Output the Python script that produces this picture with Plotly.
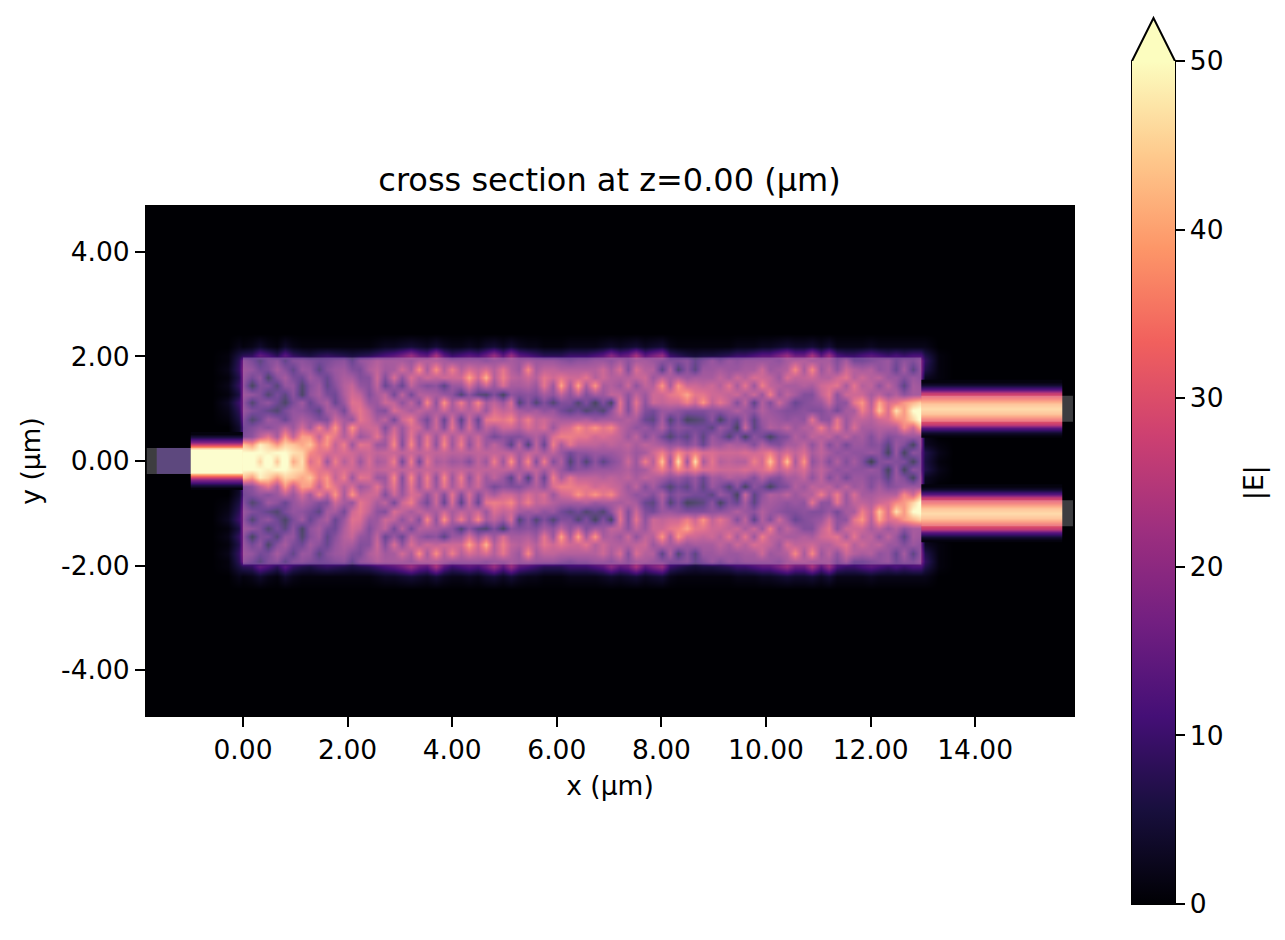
import numpy as np
import plotly.graph_objects as go

# |E| on a 0.16 um grid, upper half of the MMI (y = 0 .. 1.92)
row_00 = [52,52,44,55,42,55,38,46,28,34,18,32,22,28,18,28,20, 22,32,12,32,12,30,20,22,18,20,14,24,18,32,18,36, 18,34,14,32,14,22,6,16,6,16,8,14,18,26,18,32, 22,42,18,46,18,46,20,30,22,24,22,22,32,26,42,24, 42,20,36,16,22,14,22,14,20,14,2,14,16,14,14,4,14]
row_01 = [50,50,50,48,50,50,46,44,34,30,28,26,28,26,24,26,24, 25,25,24,25,24,25,24,25,23,24,23,24,24,24,24,24, 20,24,24,20,24,18,12,16,16,18,18,18,20,22,18,20, 26,32,24,34,28,32,28,28,26,26,26,28,26,28,32,24, 28,24,28,20,24,20,16,18,16,16,18,16,4,18,4,16,14]
row_02 = [42,36,48,44,36,44,42,38,42,30,36,24,32,18,30,28,18, 18,34,14,34,18,32,16,34,18,32,16,28,18,24,18,8, 24,6,24,10,32,20,30,24,24,24,22,24,22,24,20,24, 22,20,16,18,14,18,10,20,18,22,20,20,14,22,16,14, 20,20,24,16,24,14,20,12,18,18,14,16,8,18,14,4,18]
row_03 = [14,16,24,30,20,36,24,37,36,24,36,30,22,28,18,22,30, 20,30,16,30,18,30,18,30,20,28,20,26,18,12,16,14, 14,18,22,16,28,32,32,30,30,26,28,26,24,18,24,14, 20,12,6,12,8,16,8,18,14,6,16,4,16,12,4,12, 14,22,18,24,22,24,18,24,18,20,14,20,14,16,18,18,18]
row_04 = [12,14,17,15,18,24,18,27,19,33,22,36,20,36,24,26,26, 14,26,18,28,26,16,26,14,30,14,28,14,24,20,26,26, 22,28,24,28,18,26,28,36,30,36,30,34,24,20,16,18, 14,22,12,16,14,12,12,8,18,14,4,26,8,16,22,20, 24,18,22,22,32,22,32,18,28,20,20,22,22,22,34,26,40]
row_05 = [15,6,11,19,16,10,17,21,18,14,14,26,20,17,30,26,20, 24,12,26,32,20,12,26,10,28,8,26,10,30,32,30,34, 24,32,24,26,22,20,20,20,22,18,20,20,20,22,20,10, 8,20,6,14,4,6,8,16,4,14,10,20,8,18,20,18, 16,18,16,30,16,16,30,18,24,24,22,26,28,34,36,44,52]
row_06 = [18,14,12,9,6,13,17,16,13,8,20,20,12,26,30,24,16, 14,28,24,20,24,22,20,26,20,24,22,26,18,28,24,26, 20,18,20,16,18,12,8,12,6,10,6,16,28,14,26,14, 12,18,18,16,14,14,14,16,16,18,22,18,16,22,18,16, 14,14,16,14,14,18,12,20,20,32,24,42,28,46,36,50,52]
row_07 = [17,6,14,17,11,5,13,19,10,17,21,10,18,29,28,18,18, 26,24,16,24,14,34,16,36,20,32,20,34,20,24,18,28, 6,16,6,14,6,14,14,6,14,4,14,4,30,14,30,16, 26,24,26,26,32,26,36,24,30,24,14,24,8,22,14,26, 18,10,14,16,18,26,16,16,30,36,22,38,28,30,36,40,44]
row_08 = [19,17,14,6,13,8,16,5,16,20,13,11,21,27,24,14,20, 24,12,24,12,22,22,20,18,16,6,16,8,6,14,4,16, 14,16,14,20,16,24,16,24,14,20,18,24,24,16,24,18, 26,26,30,32,38,30,30,26,26,24,26,20,26,18,32,18, 24,20,14,14,24,30,16,26,26,26,20,24,18,22,16,20,20]
row_09 = [17,4,14,14,7,17,17,6,15,19,9,15,22,25,17,15,24, 10,18,10,24,18,14,16,8,18,18,28,18,26,18,28,20, 20,22,18,30,18,38,20,38,20,36,20,22,18,26,16,24, 22,36,20,36,26,26,24,26,22,30,20,30,18,32,24,22, 20,20,22,20,26,28,30,20,30,22,24,16,24,18,8,20,18]
row_10 = [18,12,17,5,15,20,13,11,19,15,10,17,21,20,14,15,26, 14,28,16,28,22,26,24,26,26,26,38,26,40,22,32,24, 22,26,22,30,26,30,26,26,30,22,26,22,22,22,24,26, 18,24,20,22,18,20,20,20,24,20,26,22,28,26,24,18, 28,24,24,26,22,22,26,30,22,26,22,24,18,18,14,18,16]
row_11 = [19,17,12,13,20,15,9,18,17,8,15,18,19,14,13,21,24, 19,20,27,20,35,20,35,22,32,22,28,24,28,22,30,22, 18,34,20,24,24,22,22,22,22,22,26,20,28,14,28,22, 22,8,22,6,16,8,18,18,20,18,18,20,20,26,18,20, 22,34,20,34,18,24,16,26,22,20,22,16,18,10,20,8,18]
row_12 = [17,13,8,14,16,9,15,16,14,12,13,15,16,10,17,19,22, 20,20,20,18,22,22,22,20,18,18,18,18,16,18,18,20, 18,20,18,18,18,16,14,16,16,18,18,16,20,16,20,20, 18,16,14,14,16,10,14,18,14,18,16,18,18,18,18,16, 20,22,22,20,20,20,14,20,12,12,14,16,18,12,16,14,18]
# glow just outside the top edge
row_edge = [8,9,15,12,8,14,9,7,6,8, 9,8,7,6,7,8,10,12,14,17, 22,16,14,24,14,10,12,14,12,16, 22,14,22,14,12,10,8,8,8,10, 10,10,12,14,20,14,16,24,14,18, 22,10,8,6,5,6,6,7,8,10, 10,12,14,14,18,22,16,16,24,14, 22,12,10,10,12,14,12,10,12,10, 12,12]
row_outer = [1,2,4,2,1,4,2,1,1,1, 1,1,1,1,1,1,2,3,3,4, 5,4,3,5,3,2,2,3,2,4, 5,3,5,3,2,2,1,1,1,2, 2,2,2,3,4,3,4,5,3,4, 5,2,1,1,1,1,1,1,1,2, 2,2,3,3,4,5,4,4,5,3, 5,2,2,2,2,3,2,2,2,2, 2,2]
row_far = [0] * 82

# columns either side of the MMI, one value per row above
left_near = [40,38,30,3,4,6,8,10,6,9,7,9,8,6,2,0]
left_mid = [3,3,1,0,0,1,2,3,1,2,1,2,1,1,0,0]
right_near = [6,7,3,2,10,20,30,22,12,2,3,7,9,7,2,0]
right_mid = [1,2,1,0,2,4,6,4,2,0,1,1,1,1,0,0]

# waveguide cross sections, distance from the guide centre vs |E|
input_offset = [0, 0.2, 0.25, 0.3, 0.36, 0.45, 0.52]
input_field = [60, 55, 42, 30, 18, 6, 1]
output_offset = [0, 0.1, 0.2, 0.25, 0.3, 0.36, 0.45, 0.52]
output_field = [45, 42, 34, 30, 26, 14, 4, 1]

x_ticks = [0, 2, 4, 6, 8, 10, 12, 14]
x_labels = ["0.00", "2.00", "4.00", "6.00", "8.00", "10.00", "12.00", "14.00"]
y_ticks = [-4, -2, 0, 2, 4]
y_labels = ["-4.00", "-2.00", "0.00", "2.00", "4.00"]
cbar_ticks = [0, 10, 20, 30, 40, 50]

FONT = "DejaVu Sans"
W, H = 1285, 940
L, R, T, B = 146, 1074, 206, 716
BAR_L, BAR_R, BAR_T, BAR_B, BAR_TIP = 1132, 1175, 61, 904, 18

rows = [row_00, row_01, row_02, row_03, row_04, row_05, row_06, row_07, row_08,
	row_09, row_10, row_11, row_12, row_edge, row_outer, row_far]
rows = np.array(rows, dtype=float)
rows = np.column_stack([np.zeros(16), left_mid, left_near, rows, right_near, right_mid, np.zeros(16)])
y_half = [k * 0.16 for k in range(13)] + [2.02, 2.2, 2.45]
x_grid = [-0.6, -0.3, -0.08] + [j * 0.16 for j in range(82)] + [13.03, 13.3, 13.6]
y_grid = [-v for v in y_half[:0:-1]] + y_half
z_grid = np.vstack([rows[:0:-1], rows])


def guide_trace(x_edges, center, offset, field):
	# same profile along the guide, mirrored around its centre
	ys = [center - v for v in offset[:0:-1]] + [center + v for v in offset]
	vals = field[:0:-1] + field
	return go.Heatmap(x=x_edges, y=ys, z=[[v, v] for v in vals], zmin=0, zmax=50,
		colorscale="Magma", zsmooth="best", showscale=False, hoverinfo="skip")


fig = go.Figure()
fig.add_trace(go.Heatmap(x=x_grid, y=y_grid, z=z_grid, zmin=0, zmax=50, colorscale="Magma", zsmooth="best",
	colorbar=dict(thickness=BAR_R - BAR_L, thicknessmode="pixels", len=BAR_B - BAR_T, lenmode="pixels",
		x=BAR_L / W, xref="paper", xanchor="left", xpad=0,
		y=1 - BAR_B / H, yref="paper", yanchor="bottom", ypad=0,
		outlinewidth=0, tickmode="array", tickvals=cbar_ticks,
		ticks="outside", ticklen=10, tickwidth=2, tickcolor="black",
		tickfont=dict(family=FONT, size=26.5, color="black"))))
fig.add_trace(go.Heatmap(x=[-1.65, -1.0], y=[-0.25, 0.25], z=[[8]], zmin=0, zmax=50,
	colorscale="Magma", showscale=False, hoverinfo="skip"))
fig.add_trace(guide_trace([-1.0, -0.5, 0.0], 0, input_offset, input_field))
fig.add_trace(guide_trace([12.97, 14.3, 15.66], 1, output_offset, output_field))
fig.add_trace(guide_trace([12.97, 14.3, 15.66], -1, output_offset, output_field))

# device outline drawn over the field
for x0, x1, y0, y1 in [(0, 12.97, -1.98, 1.98), (-1.84, 0, -0.25, 0.25),
		(12.97, 15.87, 0.75, 1.25), (12.97, 15.87, -1.25, -0.75)]:
	fig.add_shape(type="rect", x0=x0, x1=x1, y0=y0, y1=y1, xref="x", yref="y",
		fillcolor="rgba(255,255,255,0.24)", line_width=0, layer="above")
# colorbar extend arrow, then one outline round bar and arrow
arrow = "M %f,%f L %f,%f L %f,%f Z" % (BAR_L / W, 1 - BAR_T / H, (BAR_L + BAR_R) / 2 / W, 1 - BAR_TIP / H, BAR_R / W, 1 - BAR_T / H)
fig.add_shape(type="path", path=arrow, xref="paper", yref="paper", fillcolor="#fcfdbf", line_width=0)
outline = "M %f,%f L %f,%f L %f,%f L %f,%f L %f,%f Z" % (BAR_L / W, 1 - BAR_B / H, BAR_L / W, 1 - BAR_T / H,
	(BAR_L + BAR_R) / 2 / W, 1 - BAR_TIP / H, BAR_R / W, 1 - BAR_T / H, BAR_R / W, 1 - BAR_B / H)
fig.add_shape(type="path", path=outline, xref="paper", yref="paper", line=dict(color="black", width=2))

fig.add_annotation(text="|E|", x=1254 / W, y=1 - 483 / H, xref="paper", yref="paper", textangle=-90,
	showarrow=False, xanchor="center", yanchor="middle", font=dict(family=FONT, size=26.5, color="black"))

axis_style = dict(ticks="outside", ticklen=10, tickwidth=2, tickcolor="black", showgrid=False, zeroline=False,
	showline=True, linecolor="black", linewidth=1, mirror=True, tickmode="array",
	tickfont=dict(family=FONT, size=26.5, color="black"))
fig.update_layout(width=W, height=H, autosize=False, margin=dict(l=0, r=0, t=0, b=0),
	paper_bgcolor="white", plot_bgcolor="#000004", font=dict(family=FONT, color="black"),
	title=dict(text="cross section at z=0.00 (µm)", x=609.5 / W, y=1 - 180 / H, xanchor="center", yanchor="middle",
		font=dict(family=FONT, size=32, color="black")),
	xaxis=dict(domain=[L / W, R / W], range=[-1.855, 15.89], tickvals=x_ticks, ticktext=x_labels,
		title=dict(text="x (µm)", font=dict(family=FONT, size=26.5, color="black"), standoff=12), **axis_style),
	yaxis=dict(domain=[1 - B / H, 1 - T / H], range=[-4.877, 4.877], tickvals=y_ticks, ticktext=y_labels,
		title=dict(text="y (µm)", font=dict(family=FONT, size=26.5, color="black"), standoff=12), **axis_style))

fig.write_html("out.html", config={"displayModeBar": False}, post_script="document.body.style.margin='0';")
